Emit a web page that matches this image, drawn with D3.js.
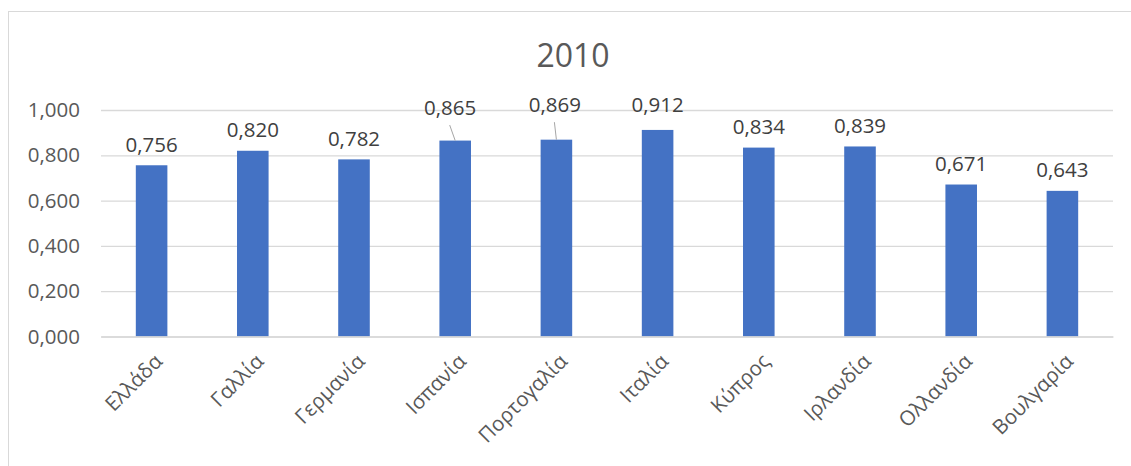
<!DOCTYPE html>
<html>
<head>
<meta charset="utf-8">
<script src="https://cdn.jsdelivr.net/npm/d3@7"></script>
<style>
  html, body { margin: 0; padding: 0; background: #fff; }
  svg { display: block; font-family: "Open Sans", "Noto Sans", sans-serif; }
</style>
</head>
<body>
<svg id="chart" width="1131" height="466"></svg>
<script>
// Country ratios for 2010
const title = "2010";
const categories = ["Ελλάδα", "Γαλλία", "Γερμανία", "Ισπανία", "Πορτογαλία", "Ιταλία", "Κύπρος", "Ιρλανδία", "Ολλανδία", "Βουλγαρία"];
const values = [0.756, 0.820, 0.782, 0.865, 0.869, 0.912, 0.834, 0.839, 0.671, 0.643];
const yTicks = [0, 0.2, 0.4, 0.6, 0.8, 1.0];

const svg = d3.select("#chart");
const W = 1131, H = 466;
const plot = { left: 101, right: 1113, top: 110, bottom: 336.5 };
const FS = 20.5;

// Chart frame
svg.append("rect")
  .attr("x", 8.5).attr("y", 11.5)
  .attr("width", W + 20).attr("height", H + 20)
  .attr("fill", "#fff").attr("stroke", "#d9d9d9").attr("stroke-width", 1);

const x = d3.scaleBand().domain(categories).range([plot.left, plot.right]).paddingInner(0.688).paddingOuter(0.344);
const y = d3.scaleLinear().domain([0, 1]).range([plot.bottom, plot.top]);

const fmt = v => d3.format(".3f")(v).replace(".", ",");

// Title
svg.append("text")
  .attr("x", 573).attr("y", 67)
  .attr("text-anchor", "middle")
  .attr("font-size", 32).attr("fill", "#595959")
  .text(title);

// Gridlines and value axis
const yAxis = d3.axisLeft(y).tickValues(yTicks).tickFormat(fmt).tickSize(-(plot.right - plot.left)).tickPadding(21);
const gy = svg.append("g").attr("transform", `translate(${plot.left},0)`).call(yAxis);
gy.select(".domain").remove();
gy.selectAll(".tick line").attr("stroke", "#d9d9d9").attr("stroke-width", 1.3);
gy.selectAll(".tick text").attr("fill", "#595959").attr("font-size", FS).attr("font-family", "Open Sans, sans-serif");

// Bars
svg.append("g").selectAll("rect").data(values).join("rect")
  .attr("x", (d, i) => x(categories[i]))
  .attr("y", d => y(d))
  .attr("width", x.bandwidth())
  .attr("height", d => y(0) - y(d))
  .attr("fill", "#4472c4");

// Category axis
const xAxis = d3.axisBottom(x).tickSize(0).tickPadding(0);
const gx = svg.append("g").attr("transform", `translate(0,${plot.bottom})`).call(xAxis);
gx.select(".domain").attr("stroke", "#d9d9d9").attr("stroke-width", 1.3);
gx.selectAll(".tick text")
  .attr("fill", "#595959").attr("font-size", FS).attr("font-family", "Open Sans, sans-serif")
  .attr("text-anchor", "end")
  .attr("dy", "0.35em")
  .attr("transform", "translate(7,21) rotate(-45)");

// Data labels; a few were dragged off their bars and carry leader lines
const labelShift = { "Ισπανία": { dx: -5, dy: -12 }, "Πορτογαλία": { dx: -1.5, dy: -14 }, "Ιταλία": { dx: 0, dy: -4.5 } };
const labels = svg.append("g");
values.forEach((v, i) => {
  const c = categories[i];
  const cx = x(c) + x.bandwidth() / 2;
  const top = y(v);
  const s = labelShift[c] || { dx: 0, dy: 0 };
  const lx = cx + s.dx, ly = top - 13.5 + s.dy;
  if (c === "Ισπανία" || c === "Πορτογαλία") {
    labels.append("line")
      .attr("x1", lx - 0.5).attr("y1", ly + 10)
      .attr("x2", cx).attr("y2", top)
      .attr("stroke", "#a6a6a6").attr("stroke-width", 1);
  }
  labels.append("text")
    .attr("x", lx).attr("y", ly)
    .attr("text-anchor", "middle")
    .attr("font-size", FS).attr("fill", "#404040")
    .text(fmt(v));
});
</script>
</body>
</html>
